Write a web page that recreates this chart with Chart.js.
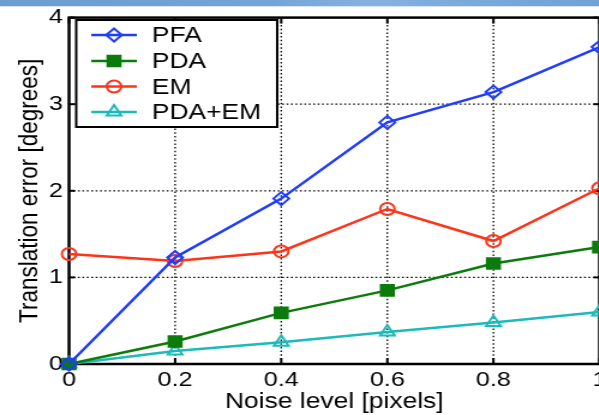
<!DOCTYPE html>
<html>
<head>
<meta charset="utf-8">
<script src="https://cdn.jsdelivr.net/npm/chart.js@4/dist/chart.umd.min.js"></script>
<style>
  html, body { margin: 0; padding: 0; background: #fff; overflow: hidden; }
  #wrap { position: relative; width: 599px; height: 415px; overflow: hidden; }
  #chart { position: absolute; left: 0; top: 0; transform: scaleX(1.2); transform-origin: 0 0; }
  #band {
    position: absolute; left: 0; top: 0; width: 599px; height: 6px;
    background: linear-gradient(90deg, #6c9dd1 0%, #74a4d6 45%, #86b1de 62%, #7cabda 75%, #71a2d5 100%);
    border-bottom: 1px solid #d3e3f2;
  }
</style>
</head>
<body>
<div id="wrap">
  <canvas id="chart" width="520" height="415" style="width:520px;height:415px"></canvas>
  <div id="band"></div>
</div>
<script>
// Noise level (pixels) on the x axis
const noiseLevels = [0, 0.2, 0.4, 0.6, 0.8, 1];
// Translation error (degrees) for each method
const pfaError   = [0, 1.23, 1.91, 2.79, 3.14, 3.66];
const pdaError   = [0, 0.26, 0.59, 0.85, 1.16, 1.35];
const emError    = [1.27, 1.19, 1.30, 1.79, 1.42, 2.03];
const pdaEmError = [0, 0.15, 0.25, 0.37, 0.48, 0.60];
// Tick values
const xTickValues = [0, 0.2, 0.4, 0.6, 0.8, 1];
const yTickValues = [0, 1, 2, 3, 4];
const seriesNames = ['PFA', 'PDA', 'EM', 'PDA+EM'];

const FONT = 'Liberation Sans, Arial, Helvetica, sans-serif';

const toPoints = (ys) => noiseLevels.map((x, i) => ({ x, y: ys[i] }));

const seriesStyle = [
  { color: '#1f3cff', pointStyle: 'rectRot',  radius: 6.5, fill: false },
  { color: '#0b7c0b', pointStyle: 'rect',     radius: 7.5, fill: true  },
  { color: '#ff3318', pointStyle: 'circle',   radius: 6,   fill: false },
  { color: '#1cbaba', pointStyle: 'triangle', radius: 7,   fill: false }
];
const seriesData = [pfaError, pdaError, emError, pdaEmError];

const datasets = seriesData.map((ys, i) => ({
  label: seriesNames[i],
  data: toPoints(ys),
  borderColor: seriesStyle[i].color,
  backgroundColor: seriesStyle[i].fill ? seriesStyle[i].color : 'rgba(0,0,0,0)',
  borderWidth: 2.5,
  pointStyle: seriesStyle[i].pointStyle,
  pointRadius: seriesStyle[i].radius,
  pointBorderWidth: 2,
  pointBorderColor: seriesStyle[i].color,
  pointBackgroundColor: seriesStyle[i].fill ? seriesStyle[i].color : 'rgba(0,0,0,0)',
  tension: 0,
  clip: false
}));

// Dotted grid, inward tick marks and the axes box
const framePlugin = {
  id: 'frame',
  beforeDatasetsDraw(chart) {
    const { ctx, chartArea: a, scales: { x, y } } = chart;
    const seg = (x1, y1, x2, y2) => { ctx.beginPath(); ctx.moveTo(x1, y1); ctx.lineTo(x2, y2); ctx.stroke(); };
    ctx.save();
    ctx.strokeStyle = '#000';
    ctx.lineWidth = 1.3;
    ctx.setLineDash([1.5, 2.2]);
    xTickValues.slice(1, -1).forEach(v => { const px = x.getPixelForValue(v); seg(px, a.top, px, a.bottom); });
    yTickValues.slice(1, -1).forEach(v => { const py = y.getPixelForValue(v); seg(a.left, py, a.right, py); });
    ctx.setLineDash([]);
    ctx.lineWidth = 2;
    xTickValues.forEach(v => {
      const px = x.getPixelForValue(v);
      seg(px, a.bottom, px, a.bottom - 6);
      seg(px, a.top, px, a.top + 6);
    });
    yTickValues.forEach(v => {
      const py = y.getPixelForValue(v);
      seg(a.left, py, a.left + 5, py);
      seg(a.right, py, a.right - 5, py);
    });
    ctx.lineWidth = 2.5;
    ctx.strokeRect(a.left, a.top, a.width, a.height);
    ctx.restore();
  }
};

// Boxed legend in the upper-left corner of the plot
const legendPlugin = {
  id: 'boxLegend',
  afterDatasetsDraw(chart) {
    const { ctx } = chart;
    const box = { x: 63.5, y: 20, w: 167.5, h: 107 };
    ctx.save();
    ctx.fillStyle = '#fff';
    ctx.fillRect(box.x, box.y, box.w, box.h);
    ctx.strokeStyle = '#000';
    ctx.lineWidth = 2;
    ctx.strokeRect(box.x, box.y, box.w, box.h);
    const rows = [35, 61, 86.5, 112];
    ctx.font = '22px ' + FONT;
    ctx.textBaseline = 'middle';
    ctx.textAlign = 'left';
    seriesNames.forEach((name, i) => {
      const st = seriesStyle[i];
      const yy = rows[i];
      ctx.strokeStyle = st.color;
      ctx.lineWidth = 2.5;
      ctx.beginPath(); ctx.moveTo(76, yy); ctx.lineTo(114, yy); ctx.stroke();
      ctx.fillStyle = st.fill ? st.color : 'rgba(0,0,0,0)';
      ctx.lineWidth = 2;
      Chart.helpers.drawPoint(ctx, { pointStyle: st.pointStyle, radius: st.radius, borderWidth: 2, rotation: 0 }, 95, yy);
      ctx.fillStyle = '#000';
      ctx.fillText(name, 126.5, yy + 1);
    });
    ctx.restore();
  }
};

const fmt = (v) => {
  const r = Math.round(v * 10) / 10;
  return r === 0 ? '0' : r === 1 ? '1' : String(r);
};

new Chart(document.getElementById('chart'), {
  type: 'line',
  data: { datasets },
  options: {
    responsive: false,
    animation: false,
    devicePixelRatio: 1,
    layout: { padding: { top: 14, right: 20.4, bottom: 0, left: 0 } },
    plugins: { legend: { display: false }, tooltip: { enabled: false } },
    scales: {
      x: {
        type: 'linear',
        min: 0, max: 1,
        afterBuildTicks: (s) => { s.ticks = xTickValues.map(v => ({ value: v })); },
        afterFit: (s) => { s.height = 51; },
        grid: { display: false, drawTicks: false },
        border: { display: false },
        ticks: { callback: fmt, color: '#000', padding: 4, maxRotation: 0, font: { family: FONT, size: 21 } },
        title: { display: true, text: 'Noise level [pixels]', color: '#000', padding: { top: 0, bottom: 0 },
                 font: { family: FONT, size: 22, lineHeight: 1.2 } }
      },
      y: {
        type: 'linear',
        min: 0, max: 4,
        afterBuildTicks: (s) => { s.ticks = yTickValues.map(v => ({ value: v })); },
        afterFit: (s) => { s.width = 57.5; },
        grid: { display: false, drawTicks: false },
        border: { display: false },
        ticks: { callback: fmt, color: '#000', padding: 5, font: { family: FONT, size: 21 } },
        title: { display: true, text: 'Translation error [degrees]', color: '#000', padding: { top: 11, bottom: 0 },
                 font: { family: FONT, size: 22.5, lineHeight: 1.2 } }
      }
    }
  },
  plugins: [framePlugin, legendPlugin]
});
</script>
</body>
</html>
